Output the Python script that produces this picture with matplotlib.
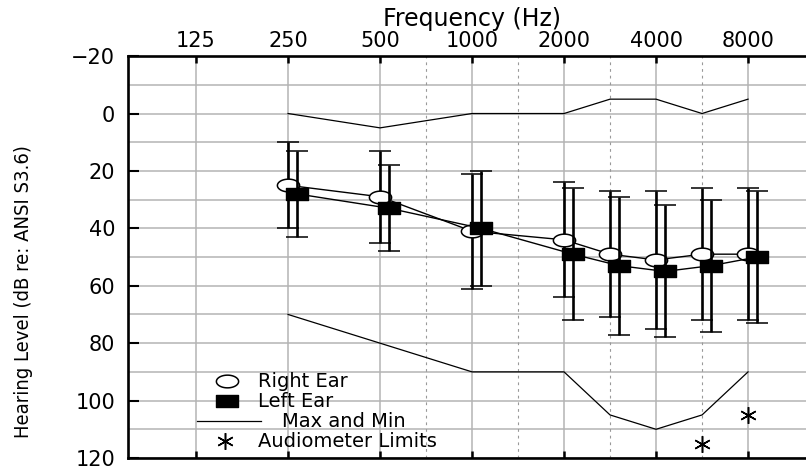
import numpy as np
import matplotlib
matplotlib.use("Agg")
import matplotlib.pyplot as plt
from matplotlib.path import Path

# ---------------- data ----------------
freqs = [250, 500, 1000, 2000, 3000, 4000, 6000, 8000]
right_mean = [25, 29, 41, 44, 49, 51, 49, 49]
right_top = [10, 13, 21, 24, 27, 27, 26, 26]
right_bot = [40, 45, 61, 64, 71, 75, 72, 72]
left_mean = [28, 33, 40, 49, 53, 55, 53, 50]
left_top = [13, 18, 20, 26, 29, 32, 30, 27]
left_bot = [43, 48, 60, 72, 77, 78, 76, 73]
max_line = [0, 5, 0, 0, -5, -5, 0, -5]
min_line = [70, 80, 90, 90, 105, 110, 105, 90]
limit_freqs = [6000, 8000]
limit_levels = [115, 105]
octave_ticks = [125, 250, 500, 1000, 2000, 4000, 8000]
octave_labels = ["125", "250", "500", "1000", "2000", "4000", "8000"]
interoctave = [750, 1500, 3000, 6000]
y_ticks = [-20, 0, 20, 40, 60, 80, 100, 120]
legend_labels = ["Right Ear", "Left Ear", "Max and Min", "Audiometer Limits"]


def apos(f):
    """audiogram position: octaves above 125 Hz, inter-octaves at half steps"""
    l = np.log2(np.asarray(f, dtype=float) / 125.0)
    return np.where(np.isclose(l, np.round(l)), np.round(l), np.floor(l) + 0.5)


W, H = 806, 467
fig = plt.figure(figsize=(W / 100, H / 100), dpi=100)
AX_L, AX_R, AX_T, AX_B = 127.5, 806.0, 56.1, 458.0
ax = fig.add_axes([AX_L / W, 1 - AX_B / H, (AX_R - AX_L) / W, (AX_B - AX_T) / H])

ax.set_xlim(-0.745, 6.63)
ax.set_ylim(120, -20)

# grid
grid_c = "#b4b4b4"
for y in range(-20, 121, 10):
    ax.axhline(y, color=grid_c, lw=1.1, zorder=0)
for p in apos(octave_ticks):
    ax.axvline(p, color=grid_c, lw=1.1, zorder=0)
for p in apos(interoctave):
    ax.axvline(p, color="#999999", lw=0.8, ls=(0, (2.5, 3.5)), zorder=0)

# max / min
ax.plot(apos(freqs), max_line, color="black", lw=0.9, zorder=2)
ax.plot(apos(freqs), min_line, color="black", lw=0.9, zorder=2)

# markers
t = np.linspace(0, 2 * np.pi, 60)
ell = Path(np.column_stack([1.75 * np.cos(t), np.sin(t)]), closed=True)
rect = Path([(-1.75, -1), (1.75, -1), (1.75, 1), (-1.75, 1), (-1.75, -1)], closed=True)

x_r = apos(freqs)
x_l = apos(freqs) + 0.098

rm = np.array(right_mean)
lm = np.array(left_mean)
ax.errorbar(x_r, rm, yerr=[rm - np.array(right_top), np.array(right_bot) - rm],
            fmt="none", ecolor="black", elinewidth=1.9, capsize=8, capthick=1.1, zorder=3)
ax.plot(x_r, rm, color="black", lw=1.0, marker=ell, ms=16, mfc="white",
        mec="black", mew=1.1, zorder=4)
ax.errorbar(x_l, lm, yerr=[lm - np.array(left_top), np.array(left_bot) - lm],
            fmt="none", ecolor="black", elinewidth=1.9, capsize=8, capthick=1.1, zorder=5)
ax.plot(x_l, lm, color="black", lw=1.0, marker=rect, ms=16, mfc="black",
        mec="black", mew=1.0, zorder=6)

# audiometer limits
ax.plot(apos(limit_freqs), limit_levels, ls="none", marker=(6, 2, 0), ms=12,
        mec="black", mew=1.1, color="black", zorder=6)

# axes styling
ax.set_yticks(y_ticks)
ax.set_yticklabels([f"{v}".replace("-", "\u2212") for v in y_ticks])
ax.set_xticks(apos(octave_ticks))
ax.set_xticklabels(octave_labels)
ax.tick_params(axis="x", which="both", direction="in", length=5, width=1.8,
               top=True, bottom=True, labeltop=True, labelbottom=False,
               labelsize=15, pad=3.5)
ax.tick_params(axis="y", direction="in", length=8, width=1.5, labelsize=15, pad=9,
               left=True, right=False)
for s in ["left", "top", "bottom"]:
    ax.spines[s].set_linewidth(1.9)
    ax.spines[s].set_color("black")
ax.spines["right"].set_visible(False)
ax.spines["top"].set_zorder(10)

# titles
fig.text(472 / W, 1 - 26 / H, "Frequency (Hz)", ha="center", va="baseline", fontsize=17)
fig.text(24 / W, 1 - 292 / H, "Hearing Level (dB re: ANSI S3.6)", rotation=90,
         ha="center", va="center", fontsize=14.5, fontstretch="condensed",
         family=["DejaVu Sans"])

# legend (manual layout)
def axf(px, py):
    return (px - AX_L) / (AX_R - AX_L), (AX_B - py) / (AX_B - AX_T)

tr = ax.transAxes
kw = dict(transform=tr, clip_on=False, zorder=8)
x0, y0 = axf(226.5, 381)
ax.plot([x0], [y0], marker=ell, ms=16, mfc="white", mec="black", mew=1.1, ls="none", **kw)
x0, y0 = axf(226.5, 401)
ax.plot([x0], [y0], marker=rect, ms=16, mfc="black", mec="black", ls="none", **kw)
xa, ya = axf(197, 421)
xb, _ = axf(261, 421)
ax.plot([xa, xb], [ya, ya], color="black", lw=0.9, **kw)
x0, y0 = axf(224.5, 441)
ax.plot([x0], [y0], marker=(6, 2, 0), ms=12, mec="black", mew=1.1, ls="none", **kw)

text_pos = [(258, 387), (258, 407), (282, 427), (258, 447)]
for (px, py), lab in zip(text_pos, legend_labels):
    tx, ty = axf(px, py)
    ax.text(tx, ty, lab, transform=tr, ha="left", va="baseline", fontsize=14, zorder=8)

fig.savefig("out.png", dpi=100)
